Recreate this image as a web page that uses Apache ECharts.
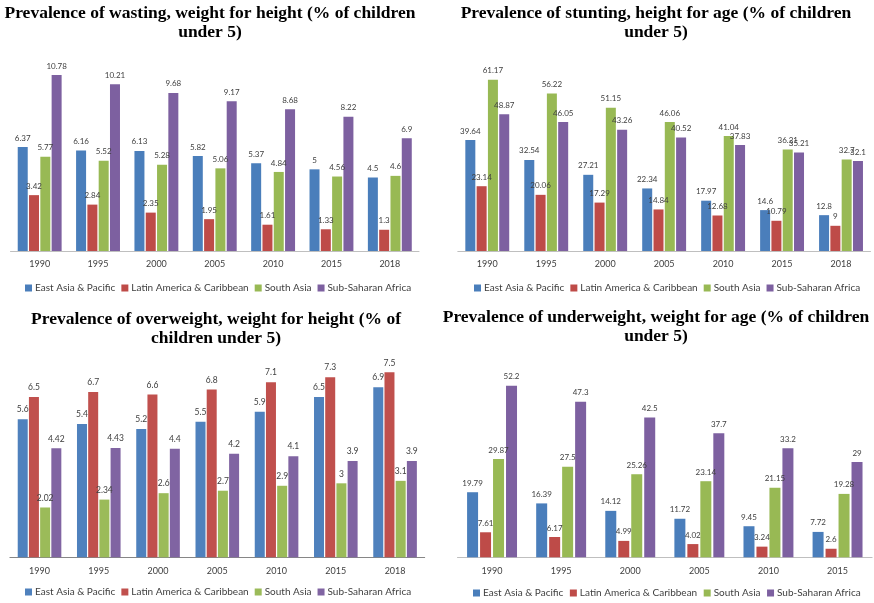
<!DOCTYPE html>
<html>
<head>
<meta charset="utf-8">
<script src="https://cdn.jsdelivr.net/npm/echarts@6/dist/echarts.min.js"></script>
<style>
html,body{margin:0;padding:0;background:#fff;}
#c{width:874px;height:603px;}
</style>
</head>
<body>
<div id="c"></div>
<script>
const years7 = ['1990','1995','2000','2005','2010','2015','2018'];
const years6 = ['1990','1995','2000','2005','2010','2015'];
const seriesNames = ['East Asia & Pacific','Latin America & Caribbean','South Asia','Sub-Saharan Africa'];

const titles = [
  'Prevalence of wasting, weight for height (% of children\nunder 5)',
  'Prevalence of stunting, height for age (% of children\nunder 5)',
  'Prevalence of overweight, weight for height (% of\nchildren under 5)',
  'Prevalence of underweight, weight for age (% of children\nunder 5)'
];

// Wasting
const wastingEAP = [6.37, 6.16, 6.13, 5.82, 5.37, 5, 4.5];
const wastingLAC = [3.42, 2.84, 2.35, 1.95, 1.61, 1.33, 1.3];
const wastingSA  = [5.77, 5.52, 5.28, 5.06, 4.84, 4.56, 4.6];
const wastingSSA = [10.78, 10.21, 9.68, 9.17, 8.68, 8.22, 6.9];

// Stunting
const stuntingEAP = [39.64, 32.54, 27.21, 22.34, 17.97, 14.6, 12.8];
const stuntingLAC = [23.14, 20.06, 17.29, 14.84, 12.68, 10.79, 9];
const stuntingSA  = [61.17, 56.22, 51.15, 46.06, 41.04, 36.21, 32.7];
const stuntingSSA = [48.87, 46.05, 43.26, 40.52, 37.83, 35.21, 32.1];

// Overweight
const overweightEAP = [5.6, 5.4, 5.2, 5.5, 5.9, 6.5, 6.9];
const overweightLAC = [6.5, 6.7, 6.6, 6.8, 7.1, 7.3, 7.5];
const overweightSA  = [2.02, 2.34, 2.6, 2.7, 2.9, 3, 3.1];
const overweightSSA = [4.42, 4.43, 4.4, 4.2, 4.1, 3.9, 3.9];

// Underweight
const underweightEAP = [19.79, 16.39, 14.12, 11.72, 9.45, 7.72];
const underweightLAC = [7.61, 6.17, 4.99, 4.02, 3.24, 2.6];
const underweightSA  = [29.87, 27.5, 25.26, 23.14, 21.15, 19.28];
const underweightSSA = [52.2, 47.3, 42.5, 37.7, 33.2, 29];

const colorsA = ['#4a7ebb', '#be4b48', '#98b954', '#7d60a0'];
const colorsB = ['#4f81bd', '#c0504d', '#9bbb59', '#8064a2'];

const panels = [
  {cats: years7, data: [wastingEAP, wastingLAC, wastingSA, wastingSSA], max: 12,
   grid: {left: 10.5, top: 55, width: 408.5, height: 196}, colors: colorsA,
   barWidth: 10, barGap: '13%', labelSize: 8, axisColor: '#bfbfbf', catSize: 9,
   title: {x: 210, y: 4}, legend: {left: 25, y: 283, size: 10, gap: 6}},
  {cats: years7, data: [stuntingEAP, stuntingLAC, stuntingSA, stuntingSSA], max: 70,
   grid: {left: 457.8, top: 55, width: 412.7, height: 196}, colors: colorsA,
   barWidth: 10, barGap: '13%', labelSize: 8, axisColor: '#bfbfbf', catSize: 9,
   title: {x: 656, y: 4}, legend: {left: 474, y: 283, size: 10, gap: 6}},
  {cats: years7, data: [overweightEAP, overweightLAC, overweightSA, overweightSSA], max: 8,
   grid: {left: 9.9, top: 360, width: 414.8, height: 197.3}, colors: colorsB,
   barWidth: 10, barGap: '12%', labelSize: 8.5, axisColor: '#868686', catSize: 9,
   title: {x: 216, y: 310}, legend: {left: 25, y: 587, size: 10, gap: 6}},
  {cats: years6, data: [underweightEAP, underweightLAC, underweightSA, underweightSSA], max: 60,
   grid: {left: 457.5, top: 360, width: 414.6, height: 197.3}, colors: colorsA,
   barWidth: 11, barGap: '18%', labelSize: 8, axisColor: '#bfbfbf', catSize: 9,
   title: {x: 656, y: 308}, legend: {left: 473, y: 588, size: 10, gap: 6.5}}
];

const option = {
  animation: false,
  backgroundColor: '#ffffff',
  title: [], legend: [], grid: [], xAxis: [], yAxis: [], series: []
};

panels.forEach((p, i) => {
  option.title.push({
    text: titles[i], left: p.title.x, top: p.title.y, padding: 0,
    textAlign: 'center',
    textStyle: {fontFamily: 'Liberation Serif', fontWeight: 'bold', fontSize: 17.5,
      lineHeight: 19, color: '#000'}
  });
  option.grid.push(Object.assign({containLabel: false}, p.grid));
  option.xAxis.push({
    type: 'category', gridIndex: i, data: p.cats,
    axisTick: {show: false},
    axisLine: {lineStyle: {color: p.axisColor, width: 1}},
    axisLabel: {color: '#404040', fontFamily: 'Lato', fontSize: p.catSize, margin: 9}
  });
  option.yAxis.push({
    type: 'value', gridIndex: i, min: 0, max: p.max,
    show: false, splitLine: {show: false}
  });
  option.legend.push({
    data: seriesNames.map((n, k) => ({name: n, itemStyle: {color: p.colors[k]}})),
    left: p.legend.left, top: p.legend.y, padding: 0,
    itemWidth: 7, itemHeight: 7, itemGap: p.legend.gap, icon: 'rect',
    textStyle: {fontFamily: 'Lato', fontSize: p.legend.size, color: '#404040', padding: [0, 0, 0, -2]},
    selectedMode: false
  });
  p.data.forEach((arr, k) => {
    option.series.push({
      type: 'bar', name: seriesNames[k], xAxisIndex: i, yAxisIndex: i,
      data: arr, barWidth: p.barWidth, barGap: p.barGap,
      itemStyle: {color: p.colors[k]},
      label: {show: true, position: 'top', distance: 5,
        fontFamily: 'Lato', fontSize: p.labelSize, color: '#404040'}
    });
  });
});

const chart = echarts.init(document.getElementById('c'), null, {renderer: 'canvas'});
chart.setOption(option);
</script>
</body>
</html>
